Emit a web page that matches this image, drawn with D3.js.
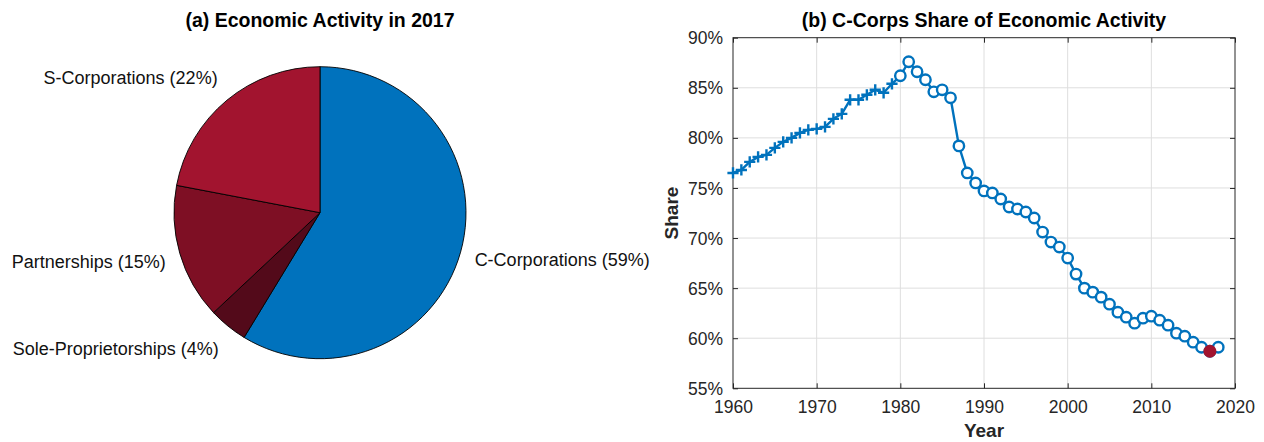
<!DOCTYPE html>
<html>
<head>
<meta charset="utf-8">
<script src="https://cdn.jsdelivr.net/npm/d3@7"></script>
<style>
  html, body { margin: 0; padding: 0; background: #fff; }
  svg { display: block; font-family: "Liberation Sans", Arial, Helvetica, sans-serif; }
</style>
</head>
<body>
<svg id="chart" width="1264" height="442"></svg>
<script>
// ---------- data ----------
const pieCategories = ["C-Corporations", "Sole-Proprietorships", "Partnerships", "S-Corporations"];
const pieValues = [58.7, 4.3, 15.0, 22.0];
const pieColors = ["#0072BD", "#530A1A", "#7E0F24", "#A2142F"];

const years = d3.range(1960, 2019);
const shareValues = [
  76.5, 76.8, 77.6, 78.1, 78.3, 79.0, 79.6, 80.0, 80.5, 80.8,
  80.9, 81.1, 81.9, 82.4, 83.8, 83.8, 84.3, 84.8, 84.5, 85.4,
  86.2, 87.6, 86.6, 85.8, 84.6, 84.8, 84.0, 79.2, 76.5, 75.5,
  74.7, 74.5, 73.9, 73.1, 72.9, 72.6, 72.0, 70.6, 69.6, 69.1,
  68.0, 66.4, 65.0, 64.6, 64.1, 63.4, 62.6, 62.1, 61.5, 62.0,
  62.2, 61.8, 61.3, 60.5, 60.2, 59.6, 59.1, 58.7, 59.1
];
const plusUntilYear = 1979;      // '+' markers through this year, 'o' afterwards
const highlightYear = 2017;
const xTicks = [1960, 1970, 1980, 1990, 2000, 2010, 2020];
const yTicks = [55, 60, 65, 70, 75, 80, 85, 90];

const svg = d3.select("#chart");
const axisColor = "#262626";
const tickFont = "17.5px";

// ---------- (a) pie ----------
const pcx = 320, pcy = 212.7, pr = 146;
const gPie = svg.append("g").attr("transform", `translate(${pcx},${pcy})`);
const pie = d3.pie().sort(null).value(d => d.v).startAngle(0).endAngle(2 * Math.PI);
const arcs = pie(pieCategories.map((c, i) => ({ c, v: pieValues[i], col: pieColors[i] })));
const arc = d3.arc().innerRadius(0).outerRadius(pr);
gPie.selectAll("path").data(arcs).join("path")
  .attr("d", arc)
  .attr("fill", d => d.data.col)
  .attr("stroke", "#000")
  .attr("stroke-width", 0.9)
  .attr("stroke-linejoin", "round");

const total = d3.sum(pieValues);
gPie.selectAll("text.lbl").data(arcs).join("text")
  .attr("class", "lbl")
  .each(function (d) {
    const a = (d.startAngle + d.endAngle) / 2;
    const rr = pr * 1.1;
    const x = rr * Math.sin(a);
    const y = -rr * Math.cos(a);
    const fs = 18;
    const base = y + 0.35 * fs - Math.cos(a) * 0.8 * fs;
    d3.select(this)
      .attr("x", x)
      .attr("y", base)
      .attr("text-anchor", x < 0 ? "end" : "start")
      .attr("font-size", fs + "px")
      .attr("fill", "#111")
      .text(`${d.data.c} (${Math.round(d.data.v / total * 100)}%)`);
  });

svg.append("text")
  .attr("x", 320).attr("y", 27)
  .attr("text-anchor", "middle")
  .attr("font-size", "19.5px").attr("font-weight", "bold").attr("fill", "#000")
  .text("(a) Economic Activity in 2017");

// ---------- (b) line ----------
const L = 733, R = 1235, T = 37.7, B = 388.3;
const x = d3.scaleLinear().domain([1960, 2020]).range([L, R]);
const y = d3.scaleLinear().domain([55, 90]).range([B, T]);
const gL = svg.append("g");

// grid
gL.append("g").selectAll("line").data(xTicks.slice(1, -1)).join("line")
  .attr("x1", d => x(d)).attr("x2", d => x(d)).attr("y1", T).attr("y2", B)
  .attr("stroke", "#dedede").attr("stroke-width", 1);
gL.append("g").selectAll("line").data(yTicks.slice(1, -1)).join("line")
  .attr("y1", d => y(d)).attr("y2", d => y(d)).attr("x1", L).attr("x2", R)
  .attr("stroke", "#dedede").attr("stroke-width", 1);

// axes via d3 axis (ticks inward)
const tl = 5;
const axB = d3.axisBottom(x).tickValues(xTicks).tickFormat(d3.format("d")).tickSize(-tl).tickPadding(12);
const axT = d3.axisTop(x).tickValues(xTicks).tickFormat("").tickSize(-tl);
const axLft = d3.axisLeft(y).tickValues(yTicks).tickFormat(d => d + "%").tickSize(-tl).tickPadding(10);
const axRgt = d3.axisRight(y).tickValues(yTicks).tickFormat("").tickSize(-tl);

function styleAxis(g) {
  g.select(".domain").remove();
  g.selectAll(".tick line").attr("stroke", axisColor).attr("stroke-width", 1);
  g.selectAll(".tick text").attr("fill", axisColor).attr("font-size", tickFont)
    .attr("font-family", "'Liberation Sans', Arial, Helvetica, sans-serif");
}
gL.append("g").attr("transform", `translate(0,${B})`).call(axB).call(styleAxis)
  .selectAll(".tick text").attr("dy", "0.71em");
gL.append("g").attr("transform", `translate(0,${T})`).call(axT).call(styleAxis);
gL.append("g").attr("transform", `translate(${L},0)`).call(axLft).call(styleAxis)
  .selectAll(".tick text").attr("dy", "0.35em");
gL.append("g").attr("transform", `translate(${R},0)`).call(axRgt).call(styleAxis);

gL.append("rect")
  .attr("x", L).attr("y", T).attr("width", R - L).attr("height", B - T)
  .attr("fill", "none").attr("stroke", axisColor).attr("stroke-width", 1);

// series
const pts = years.map((yr, i) => ({ yr, v: shareValues[i] }));
const blue = "#0072BD";
gL.append("path").datum(pts)
  .attr("d", d3.line().x(d => x(d.yr)).y(d => y(d.v)))
  .attr("fill", "none").attr("stroke", blue).attr("stroke-width", 2.4).attr("stroke-linejoin", "round");

const plusPts = pts.filter(d => d.yr <= plusUntilYear);
const circPts = pts.filter(d => d.yr > plusUntilYear);
const ps = 5.6;
gL.append("g").selectAll("path").data(plusPts).join("path")
  .attr("d", d => `M${x(d.yr) - ps},${y(d.v)}H${x(d.yr) + ps}M${x(d.yr)},${y(d.v) - ps}V${y(d.v) + ps}`)
  .attr("stroke", blue).attr("stroke-width", 2.4).attr("fill", "none");
gL.append("g").selectAll("circle").data(circPts).join("circle")
  .attr("cx", d => x(d.yr)).attr("cy", d => y(d.v)).attr("r", 5.2)
  .attr("fill", "#fff").attr("stroke", blue).attr("stroke-width", 2.4);

const hp = pts.find(d => d.yr === highlightYear);
gL.append("circle")
  .attr("cx", x(hp.yr)).attr("cy", y(hp.v)).attr("r", 6.5)
  .attr("fill", "#A2142F");

// labels
svg.append("text")
  .attr("x", (L + R) / 2).attr("y", 27)
  .attr("text-anchor", "middle")
  .attr("font-size", "19.5px").attr("font-weight", "bold").attr("fill", "#000")
  .text("(b) C-Corps Share of Economic Activity");
svg.append("text")
  .attr("x", (L + R) / 2).attr("y", 437)
  .attr("text-anchor", "middle")
  .attr("font-size", "19px").attr("font-weight", "bold").attr("fill", axisColor)
  .text("Year");
svg.append("text")
  .attr("transform", `translate(678,${(T + B) / 2}) rotate(-90)`)
  .attr("text-anchor", "middle")
  .attr("font-size", "19px").attr("font-weight", "bold").attr("fill", axisColor)
  .text("Share");
</script>
</body>
</html>
